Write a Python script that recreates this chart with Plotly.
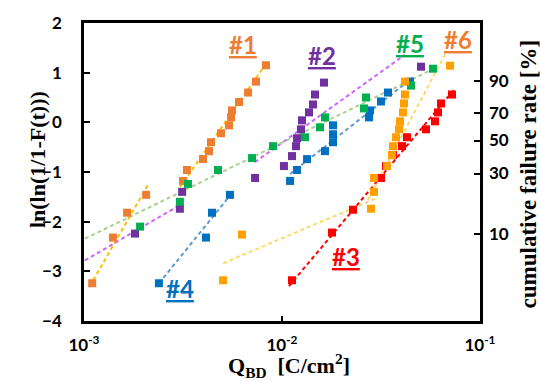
import numpy as np
import plotly.graph_objects as go

# ---- data: charge-to-breakdown (C/cm^2) and Weibull ordinate ln(ln(1/(1-F))) ----
q1 = [1.10e-3, 1.40e-3, 1.65e-3, 2.06e-3, 3.16e-3, 3.31e-3, 3.99e-3, 4.28e-3, 4.38e-3,
      4.92e-3, 5.40e-3, 5.53e-3, 5.59e-3, 6.07e-3, 6.74e-3, 7.39e-3, 8.30e-3]
w1 = [-3.24, -2.32, -1.82, -1.46, -1.18, -0.96, -0.74, -0.58, -0.40,
      -0.22, -0.06, 0.10, 0.24, 0.41, 0.60, 0.82, 1.15]

q2 = [1.81e-3, 3.05e-3, 3.13e-3, 7.31e-3, 1.023e-2, 1.123e-2, 1.177e-2, 1.191e-2,
      1.247e-2, 1.262e-2, 1.369e-2, 1.434e-2, 1.468e-2, 1.630e-2, 5.035e-2]
w2 = [-2.24, -1.74, -1.40, -1.12, -0.88, -0.68, -0.48, -0.32,
      -0.14, 0.04, 0.20, 0.36, 0.56, 0.80, 1.12]

q3 = [1.123e-2, 1.789e-2, 2.284e-2, 3.162e-2, 3.352e-2, 3.636e-2, 4.037e-2,
      4.279e-2, 5.338e-2, 5.924e-2, 6.136e-2, 6.353e-2, 7.221e-2]
w3 = [-3.18, -2.22, -1.76, -1.12, -0.88, -0.66, -0.48,
      -0.30, -0.14, 0.02, 0.20, 0.38, 0.56]

q4 = [2.39e-3, 4.13e-3, 4.43e-3, 5.46e-3, 1.098e-2, 1.191e-2, 1.338e-2, 1.649e-2,
      1.810e-2, 1.810e-2, 1.810e-2, 2.751e-2, 2.783e-2, 3.162e-2, 3.431e-2, 4.431e-2]
w4 = [-3.24, -2.32, -1.82, -1.46, -1.18, -0.96, -0.74, -0.58,
      -0.40, -0.24, -0.06, 0.10, 0.24, 0.42, 0.60, 0.82]

q5 = [1.92e-3, 3.05e-3, 3.35e-3, 4.75e-3, 7.06e-3, 9.01e-3, 1.307e-2,
      1.556e-2, 1.649e-2, 2.595e-2, 2.656e-2, 4.483e-2, 5.789e-2]
w5 = [-2.10, -1.60, -1.24, -0.96, -0.72, -0.48, -0.30,
      -0.10, 0.10, 0.28, 0.50, 0.74, 1.08]

q6 = [5.04e-3, 6.28e-3, 2.815e-2, 2.915e-2, 2.915e-2, 3.392e-2, 3.594e-2, 3.636e-2,
      3.765e-2, 3.899e-2, 3.945e-2, 4.084e-2, 4.132e-2, 4.180e-2, 4.180e-2, 7.055e-2]
w6 = [-3.18, -2.26, -1.74, -1.40, -1.12, -0.88, -0.66, -0.48,
      -0.30, -0.14, 0.02, 0.20, 0.38, 0.56, 0.82, 1.14]

# Weibull fit segments: (shape beta, scale eta [C/cm^2], Q from, Q to)
fit1 = [(3.02, 3.19e-3, 1.07e-3, 2.10e-3), (2.48, 5.16e-3, 3.05e-3, 8.50e-3)]
fit2 = [(1.01, 1.584e-2, 1.01e-3, 3.13e-3), (1.24, 1.394e-2, 7.30e-3, 4.18e-2)]
fit3 = [(2.06, 5.375e-2, 1.085e-2, 7.47e-2)]
fit4 = [(2.14, 1.088e-2, 2.39e-3, 5.66e-3), (1.36, 2.362e-2, 1.10e-2, 4.59e-2)]
fit5 = [(0.843, 1.627e-2, 1.01e-3, 5.72e-2)]
fit6 = [(0.735, 0.2396, 5.04e-3, 2.95e-2), (3.27, 4.384e-2, 2.72e-2, 6.81e-2)]

# right-axis cumulative failure percentages
pct = [10, 30, 50, 70, 90]

names = ["#1", "#2", "#3", "#4", "#5", "#6"]
qs = [q1, q2, q3, q4, q5, q6]
ws = [w1, w2, w3, w4, w5, w6]
fits = [fit1, fit2, fit3, fit4, fit5, fit6]
mark_col = ["#ED7D31", "#7030A0", "#FF0000", "#0070C0", "#00B050", "#FFA000"]
line_col = ["#FFC000", "#CC66FF", "#FF0000", "#5B9BD5", "#A9D18E", "#FFD966"]
label_col = ["#ED7D31", "#7030A0", "#FF0000", "#0070C0", "#00B050", "#ED7D31"]
label_pos = [(6.36e-3, 1.56), (1.59e-2, 1.34), (2.10e-2, -2.70), (3.05e-3, -3.34),
             (4.43e-2, 1.58), (7.74e-2, 1.66)]

fig = go.Figure()

# fitted Weibull lines
for fit, lc in zip(fits, line_col):
    for beta, eta, qa, qb in fit:
        qq = np.array([qa, qb])
        fig.add_trace(go.Scatter(x=qq, y=beta * np.log(qq / eta), mode="lines",
                                 line=dict(color=lc, width=2, dash="4px,3px"),
                                 showlegend=False, hoverinfo="skip"))

# measured points
for nm, q, w, mc in zip(names, qs, ws, mark_col):
    fig.add_trace(go.Scatter(x=q, y=w, mode="markers", name=nm,
                             marker=dict(symbol="square", size=8, color=mc,
                                         line=dict(width=0)),
                             showlegend=False))

# invisible trace carrying the secondary (percentage) axis
fig.add_trace(go.Scatter(x=[1e-3], y=[0], yaxis="y2", mode="markers",
                         marker=dict(opacity=0), showlegend=False, hoverinfo="skip"))

for nm, (lx, ly), c in zip(names, label_pos, label_col):
    fig.add_annotation(x=np.log10(lx), y=ly, text="<b><u>%s</u></b>" % nm, showarrow=False,
                       xanchor="center", yanchor="middle",
                       font=dict(family="Lato", size=24, color=c))

tick_font = dict(family="Lato", size=17, color="black", weight="bold")


def title_font(size):
    return dict(family="Liberation Serif", size=size, color="black")


fig.update_layout(
    width=540, height=381,
    margin=dict(l=84, r=60, t=21, b=60),
    paper_bgcolor="white", plot_bgcolor="white",
    xaxis=dict(type="log", range=[-3, -1], tickvals=[1e-3, 1e-2, 1e-1],
               ticktext=["10<sup>-3</sup>", "10<sup>-2</sup>", "10<sup>-1</sup>"],
               ticks="inside", ticklen=5, tickwidth=1.5, tickcolor="black",
               showline=True, linewidth=2.5, linecolor="black", mirror=True,
               showgrid=False, zeroline=False, tickfont=tick_font, ticklabelstandoff=7),
    yaxis=dict(range=[-4, 2], dtick=1, tick0=0, ticks="inside", ticklen=6, tickwidth=1.5,
               tickcolor="black", showline=True, linewidth=2.5, linecolor="black",
               mirror=True, showgrid=False, zeroline=False, tickfont=tick_font,
               ticklabelstandoff=16),
    yaxis2=dict(overlaying="y", side="right", range=[-4, 2],
                tickvals=[float(np.log(-np.log(1 - p / 100))) for p in pct],
                ticktext=[str(p) for p in pct], ticks="inside", ticklen=6, tickwidth=1.5,
                tickcolor="black", showline=False, showgrid=False, zeroline=False,
                tickfont=tick_font, ticklabelstandoff=8),
)

fig.add_annotation(xref="paper", yref="paper", x=-0.119, y=0.543, textangle=-90,
                   xanchor="center", yanchor="middle",
                   text="<b>ln(ln(1/1-F(t)))</b>", showarrow=False, font=title_font(22))
fig.add_annotation(xref="paper", yref="paper", x=0.518, y=-0.149,
                   xanchor="center", yanchor="middle",
                   text="<b>Q<sub>BD</sub>&nbsp;&nbsp;[C/cm<sup>2</sup>]</b>", showarrow=False,
                   font=title_font(22))
fig.add_annotation(xref="paper", yref="paper", x=1.1212, y=0.492, textangle=-90,
                   xanchor="center", yanchor="middle",
                   text="<b>cumulative failure rate [%]</b>", showarrow=False,
                   font=title_font(23))

fig.write_html("out.html")
